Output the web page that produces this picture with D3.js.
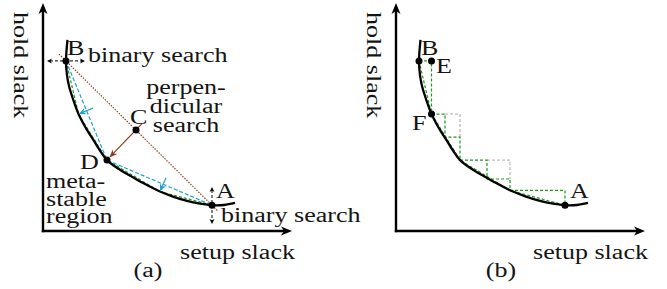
<!DOCTYPE html>
<html>
<head>
<meta charset="utf-8">
<script src="https://cdn.jsdelivr.net/npm/d3@7"></script>
<style>
  html, body { margin: 0; padding: 0; background: #fff; }
  svg text { font-family: "Liberation Serif", "Times New Roman", serif; font-size: 20.5px; fill: #141414; }
</style>
</head>
<body>
<script>
// ---------------- DATA (setup slack, hold slack) ----------------
const curvePts = [[0.98,8.38],[0.92,7.46],[0.96,6.84],[1.04,6.36],[1.16,5.92],[1.28,5.53],[1.42,5.13],
  [1.60,4.74],[1.80,4.36],[2.04,3.95],[2.28,3.53],[2.56,3.11],[2.84,2.86],[3.16,2.63],[3.56,2.38],
  [4.08,2.06],[4.68,1.73],[5.20,1.51],[5.76,1.32],[6.28,1.20],[6.76,1.13],[7.24,1.14],[7.68,1.23]];
const ptB = [0.92, 7.46];
const ptA = [6.76, 1.13];
const ptC = [3.72, 4.43];
const ptD = [2.56, 3.11];
const ptP1 = [1.42, 5.13];
const ptP2 = [4.68, 1.73];
const ptE = [1.42, 7.46];
const ptF = [1.42, 5.13];
const ptS2 = [4.56, 1.78];
const brownLine = [[0.64, 7.76], [7.0, 0.87]];
const brownTail = [3.96, 4.71];
const cyanArrows = [[[2.0, 5.39], ptP1], [[4.92, 2.34], ptP2]];
const greenA = [ptB, ptP1, ptD, ptP2, ptA];
const binaryH = [[0.16, 7.46], [1.68, 7.46]];
const binaryV = [[6.76, 1.93], [6.76, 0.31]];
// staircase of panel (b): green steps, grey outlines, green diagonals
const greenSteps = [
  [ptB, ptE, ptF],
  [ptF, [1.96, 5.13], [1.96, 4.12], [2.56, 4.12], ptD],
  [ptD, [3.64, 3.11], [3.64, 2.28], [4.56, 2.28], ptS2],
  [ptS2, [6.76, 1.78], ptA]
];
const greyBoxes = [
  [[1.96, 5.13], [2.56, 5.13], [2.56, 4.12]],
  [[3.64, 3.11], [4.56, 3.11], [4.56, 2.28]]
];
const greenDiag = [ptB, ptF, ptD, ptS2, ptA];
const axisMax = [9.96, 10];
const xLabel = "setup slack";
const yLabel = "hold slack";
const panelTitles = ["(a)", "(b)"];
const labelsA = ["B", "C", "D", "A"];
const labelsB = ["B", "E", "F", "A"];
const binaryText = "binary search";
const perpText = ["perpen-", "dicular", "search"];
const metaText = ["meta-", "stable", "region"];

// ---------------- LAYOUT ----------------
const W = 667, H = 289;
const STRETCH = 1.27; // horizontal widening to mimic Computer Modern proportions
const svg = d3.select("body").append("svg").attr("width", W).attr("height", H);
const y = d3.scaleLinear().domain([0, 10]).range([231, 3]);
const xA = d3.scaleLinear().domain([0, 10]).range([43, 293]);
const xB = d3.scaleLinear().domain([0, 10]).range([396, 646]);

const BROWN = "#8b3a1e", CYAN = "#1ea6cc", GREEN = "#1c9a1c", GREY = "#a9a9a9";

// text helper: anchor 'start' | 'middle' | 'end', widened glyphs
function label(g, str, x, yy, anchor) {
  const t = g.append("text").attr("x", x).attr("y", yy).text(str);
  const len = t.node().getComputedTextLength();
  const target = len * STRETCH;
  let x0 = x;
  if (anchor === "middle") x0 = x - target / 2;
  if (anchor === "end") x0 = x - target;
  t.attr("x", x0).attr("textLength", target).attr("lengthAdjust", "spacingAndGlyphs");
  return t;
}

function head(g, tx, ty, ang, L, Wd, color) {
  const c = Math.cos(ang), s = Math.sin(ang);
  const p = [
    [tx, ty],
    [tx - L * c + Wd / 2 * s, ty - L * s - Wd / 2 * c],
    [tx - 0.72 * L * c, ty - 0.72 * L * s],
    [tx - L * c - Wd / 2 * s, ty - L * s + Wd / 2 * c]
  ];
  g.append("path").attr("d", "M" + p.map(q => q.join(",")).join("L") + "Z").attr("fill", color);
}

function drawPanel(x, k) {
  const g = svg.append("g");
  const line = d3.line().x(d => x(d[0])).y(d => y(d[1]));
  const x0 = x(0), y0 = y(0), xt = x(axisMax[0]), yt = y(axisMax[1]);
  g.append("line").attr("x1", x0).attr("y1", y0 + 1.2).attr("x2", x0).attr("y2", yt + 7)
    .attr("stroke", "#000").attr("stroke-width", 2.4);
  g.append("line").attr("x1", x0 - 1.2).attr("y1", y0).attr("x2", xt - 7).attr("y2", y0)
    .attr("stroke", "#000").attr("stroke-width", 2.4);
  head(g, x0, yt, -Math.PI / 2, 11, 9, "#000");
  head(g, xt, y0, 0, 11, 9, "#000");
  label(g, xLabel, xt + 3, 259, "end");
  const yg = g.append("g").attr("transform", `translate(${x0 - 29},12) rotate(90)`).attr("opacity", 0.995);
  label(yg, yLabel, 0, 0, "start");
  label(g, panelTitles[k], x0 + 105, 277, "middle");
  return { g, line };
}

// ---------- Panel (a) ----------
{
  const { g, line } = drawPanel(xA, 0);
  const x = xA;
  g.append("path").attr("d", line(brownLine)).attr("fill", "none")
    .attr("stroke", BROWN).attr("stroke-width", 1.2).attr("stroke-dasharray", "1.4,1.4");
  g.append("path").attr("d", line(greenA)).attr("fill", "none")
    .attr("stroke", GREEN).attr("stroke-width", 1.2).attr("stroke-dasharray", "3,2");
  g.append("path").attr("d", line([ptB, ptD, ptA])).attr("fill", "none")
    .attr("stroke", CYAN).attr("stroke-width", 1.2).attr("stroke-dasharray", "4,2");
  g.append("path").attr("d", d3.line().x(d => x(d[0])).y(d => y(d[1])).curve(d3.curveCatmullRom.alpha(0.5))(curvePts))
    .attr("fill", "none").attr("stroke", "#000").attr("stroke-width", 2.3);
  cyanArrows.forEach(([t, h]) => {
    const tx = x(t[0]), ty = y(t[1]), hx = x(h[0]), hy = y(h[1]);
    const ang = Math.atan2(hy - ty, hx - tx);
    const ex = hx - 4 * Math.cos(ang), ey = hy - 4 * Math.sin(ang);
    g.append("line").attr("x1", tx).attr("y1", ty).attr("x2", ex).attr("y2", ey)
      .attr("stroke", CYAN).attr("stroke-width", 1.2);
    head(g, hx, hy, ang, 7.5, 6.5, CYAN);
  });
  {
    const tx = x(brownTail[0]), ty = y(brownTail[1]), dx = x(ptD[0]), dy = y(ptD[1]);
    const ang = Math.atan2(dy - ty, dx - tx);
    const hx = dx - 3.5 * Math.cos(ang), hy = dy - 3.5 * Math.sin(ang);
    g.append("line").attr("x1", tx).attr("y1", ty).attr("x2", hx - 5 * Math.cos(ang)).attr("y2", hy - 5 * Math.sin(ang))
      .attr("stroke", BROWN).attr("stroke-width", 1.2);
    head(g, hx, hy, ang, 8, 6.5, BROWN);
  }
  [binaryH, binaryV].forEach(seg => {
    const a = [x(seg[0][0]), y(seg[0][1])], b = [x(seg[1][0]), y(seg[1][1])];
    const ang = Math.atan2(b[1] - a[1], b[0] - a[0]);
    g.append("line").attr("x1", a[0] + 3 * Math.cos(ang)).attr("y1", a[1] + 3 * Math.sin(ang))
      .attr("x2", b[0] - 3 * Math.cos(ang)).attr("y2", b[1] - 3 * Math.sin(ang))
      .attr("stroke", "#000").attr("stroke-width", 1).attr("stroke-dasharray", "3,2");
    head(g, b[0], b[1], ang, 5, 5, "#000");
    head(g, a[0], a[1], ang + Math.PI, 5, 5, "#000");
  });
  [ptB, ptC, ptD, ptA].forEach(p => g.append("circle").attr("cx", x(p[0])).attr("cy", y(p[1])).attr("r", 3.5).attr("fill", "#000"));
  const pos = { B: [67, 55], C: [130, 124], D: [80, 169], A: [216, 198] };
  labelsA.forEach(l => label(g, l, pos[l][0], pos[l][1], "start"));
  label(g, binaryText, 88, 62, "start");
  label(g, binaryText, 221, 222, "start");
  perpText.forEach((t, i) => label(g, t, 186, 94 + i * 19, "middle"));
  metaText.forEach((t, i) => label(g, t, 46, 188 + i * 17.5, "start"));
}

// ---------- Panel (b) ----------
{
  const { g, line } = drawPanel(xB, 1);
  const x = xB;
  greyBoxes.forEach(b => g.append("path").attr("d", line(b)).attr("fill", "none")
    .attr("stroke", GREY).attr("stroke-width", 1).attr("stroke-dasharray", "3,2"));
  greenSteps.forEach(s => g.append("path").attr("d", line(s)).attr("fill", "none")
    .attr("stroke", GREEN).attr("stroke-width", 1.2).attr("stroke-dasharray", "3,2"));
  g.append("path").attr("d", line(greenDiag)).attr("fill", "none")
    .attr("stroke", GREEN).attr("stroke-width", 1.2).attr("stroke-dasharray", "3,2");
  g.append("path").attr("d", d3.line().x(d => x(d[0])).y(d => y(d[1])).curve(d3.curveCatmullRom.alpha(0.5))(curvePts))
    .attr("fill", "none").attr("stroke", "#000").attr("stroke-width", 2.3);
  [ptB, ptE, ptF, ptA].forEach(p => g.append("circle").attr("cx", x(p[0])).attr("cy", y(p[1])).attr("r", 3.5).attr("fill", "#000"));
  const pos = { B: [421, 55], E: [436, 73], F: [412, 130], A: [570, 198] };
  labelsB.forEach(l => label(g, l, pos[l][0], pos[l][1], "start"));
}
</script>
</body>
</html>
